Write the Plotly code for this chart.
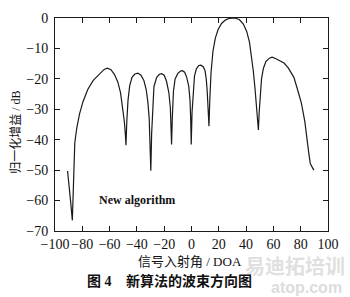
import plotly.graph_objects as go

# Beam pattern: incidence angle (deg) and normalised gain (dB)
doa = [-90.8, -89.6, -88.4, -87.3, -86.8, -86.3, -85.5, -84, -82, -79.5, -76, -72, -67.5, -64, -61.7,
       -59, -56.5, -54, -52, -50.3, -49.2, -48.4, -48,
       -47.4, -46.5, -45.3, -43.6, -41.5, -39.2, -37, -34.9, -33.2, -32, -31, -30.3, -29.8,
       -29.2, -28.4, -27.5, -25.5, -23.5, -21.9, -20, -18.3, -16.6, -15.5, -15, -14.6,
       -14, -13.2, -12, -10, -8, -6.7, -5, -3.5, -2, -1.1, -0.6, -0.2,
       0.4, 1.2, 2.2, 3.6, 5.3, 7, 8.7, 9.9, 10.8, 11.5, 12.1, 12.8,
       13.4, 14.3, 15.7, 17.5, 19.5, 22, 25, 28, 31.5, 35, 38, 40.5, 42.5, 44, 45.3, 46.5, 47.5, 48.3, 49,
       49.6, 50.3, 51.3, 52.7, 54.5, 57, 59, 61.5, 64.5, 67.8, 71, 75, 78, 80.5, 83, 84.5, 85.8, 87, 88.3, 89.6]
gain = [-50.3, -55, -61, -66.5, -58, -48, -41, -36, -31.5, -27.5, -23.5, -20.5, -18.3, -16.9, -16.5,
        -17, -18.5, -21, -24.5, -29.5, -34, -38.5, -41.8,
        -34, -27, -22.3, -19.5, -18.4, -18.1, -18.8, -20.5, -23.5, -27.5, -33, -40, -50.2,
        -38, -28, -22.5, -19.5, -18.5, -18.3, -18.8, -20.8, -24.5, -29.5, -35, -41.6,
        -32, -24, -20, -18.2, -17.4, -17.3, -17.8, -19.5, -22.5, -27, -33, -41.6,
        -31, -23.5, -19, -16.7, -15.6, -15.5, -16.1, -17.3, -20, -24, -29, -35.6,
        -27, -18, -11, -6.5, -3.8, -1.8, -0.6, -0.1, 0, -0.5, -2, -4.5, -8, -12.5, -17.5, -23, -28.5, -33, -36.8,
        -31, -25, -20, -16.5, -14.3, -13.2, -12.9, -13.3, -14, -14.8, -16.5, -19.5, -24, -28, -34, -38.5, -44, -47.8, -49.2, -50]

x_ticks = [-100, -80, -60, -40, -20, 0, 20, 40, 60, 80, 100]
y_ticks = [0, -10, -20, -30, -40, -50, -60, -70]

SERIF = "Liberation Serif, Noto Sans CJK SC, serif"

fig = go.Figure()
fig.add_trace(go.Scatter(x=doa, y=gain, mode="lines",
                         line=dict(color="#1a1a1a", width=1.2), showlegend=False,
                         hoverinfo="skip"))

axis_common = dict(showgrid=False, zeroline=False, showline=True, linecolor="#1a1a1a",
                   linewidth=1, ticks="inside", ticklen=5, tickwidth=1, tickcolor="#1a1a1a",
                   mirror="ticks", tickfont=dict(family=SERIF, size=14, color="#111"))

fig.update_layout(
    width=350, height=297,
    margin=dict(l=55, r=18, t=11, b=66),
    paper_bgcolor="white", plot_bgcolor="white",
    xaxis=dict(range=[-100, 100], tickvals=x_ticks, tickangle=0, ticklabelstandoff=0,
               **axis_common),
    yaxis=dict(range=[-70, 0], tickvals=y_ticks, ticklabelstandoff=3, **axis_common),
)

# watermark (light, behind caption)
fig.add_annotation(text="<b>易迪拓培训</b>", xref="paper", yref="paper",
                   x=(351 - 55) / 277, y=(231 - 267) / 220, xanchor="right", yanchor="middle",
                   showarrow=False, font=dict(family="Noto Sans CJK SC", size=20, color="#e0e0e0"))
fig.add_annotation(text="<b>atop.com</b>", xref="paper", yref="paper",
                   x=(348 - 55) / 277, y=(231 - 289) / 220, xanchor="right", yanchor="middle",
                   showarrow=False, font=dict(family="Liberation Sans, sans-serif", size=16, color="#dcdcdc"))

fig.add_annotation(text="<b>New algorithm</b>", x=-69, y=-59.8, xref="x", yref="y",
                   xanchor="left", yanchor="middle", showarrow=False,
                   font=dict(family=SERIF, size=12, color="#111"))
fig.add_annotation(text="归一化增益 / dB", xref="paper", yref="paper",
                   x=(16 - 55) / 277, y=(231 - 129) / 220, xanchor="center", yanchor="middle",
                   textangle=-90, showarrow=False, font=dict(family=SERIF, size=12, color="#111"))
fig.add_annotation(text="信号入射角 / DOA", xref="paper", yref="paper",
                   x=(192 - 55) / 277, y=(231 - 262) / 220, xanchor="center", yanchor="middle",
                   showarrow=False, font=dict(family=SERIF, size=13, color="#111"))
fig.add_annotation(text="<b>图 4</b>", xref="paper", yref="paper",
                   x=(85 - 55) / 277, y=(231 - 283) / 220, xanchor="left", yanchor="middle",
                   showarrow=False, font=dict(family=SERIF, size=14, color="#111"))
fig.add_annotation(text="<b>新算法的波束方向图</b>", xref="paper", yref="paper",
                   x=(125 - 55) / 277, y=(231 - 283) / 220, xanchor="left", yanchor="middle",
                   showarrow=False, font=dict(family=SERIF, size=14, color="#111"))

fig.write_html("out.html")
